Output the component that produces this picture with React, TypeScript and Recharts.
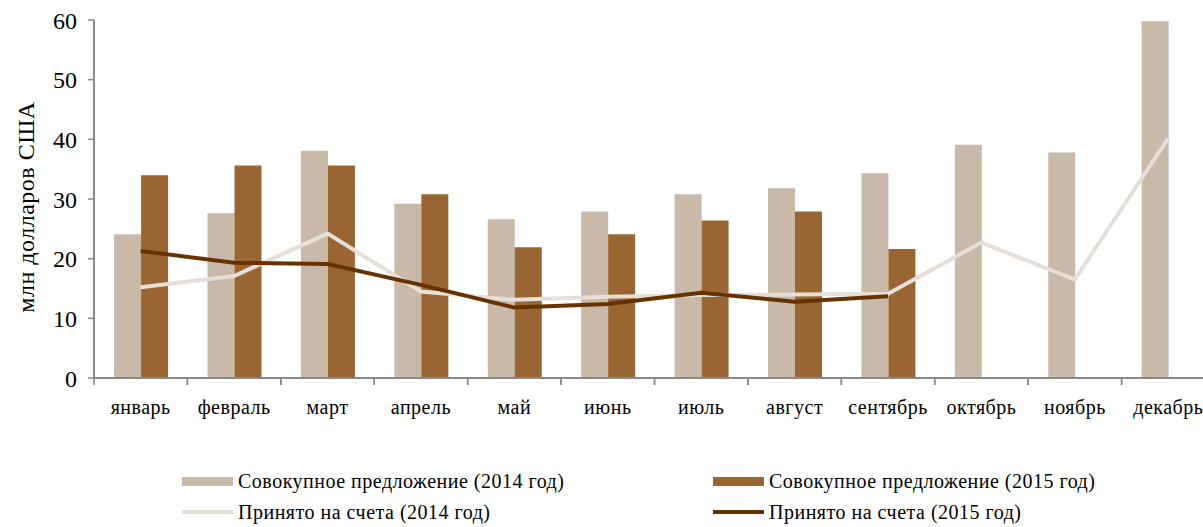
import React from 'react';
import { ComposedChart, Bar, Line, XAxis, YAxis } from 'recharts';

// данные по месяцам, млн долларов США
const months = ['январь', 'февраль', 'март', 'апрель', 'май', 'июнь', 'июль', 'август', 'сентябрь', 'октябрь', 'ноябрь', 'декабрь'];
const supply2014 = [24.1, 27.6, 38.1, 29.2, 26.6, 27.9, 30.8, 31.8, 34.3, 39.1, 37.8, 59.8];
const supply2015 = [34.0, 35.6, 35.6, 30.8, 21.9, 24.1, 26.4, 27.9, 21.6, null, null, null];
const accepted2014 = [15.2, 17.1, 24.2, 14.5, 13.1, 13.6, 13.9, 14.0, 14.1, 22.7, 16.5, 40.2];
const accepted2015 = [21.3, 19.3, 19.1, 15.6, 11.8, 12.4, 14.3, 12.8, 13.7, null, null, null];
const yTicks = [0, 10, 20, 30, 40, 50, 60];

const legendItems = [
  { label: 'Совокупное предложение (2014 год)', color: '#C8B9A9', kind: 'bar' },
  { label: 'Совокупное предложение (2015 год)', color: '#996633', kind: 'bar' },
  { label: 'Принято на счета (2014 год)', color: '#E6DFD8', kind: 'line' },
  { label: 'Принято на счета (2015 год)', color: '#663300', kind: 'line' },
];

const data = months.map((m, i) => ({
  month: m,
  s14: supply2014[i],
  s15: supply2015[i],
  a14: accepted2014[i],
  a15: accepted2015[i],
}));

const FONT = '"Liberation Serif", "Times New Roman", serif';
const AXIS = '#8a8a8a';
const CHART_W = 1222;
const CHART_H = 420;
const LEFT = 94;
const RIGHT_M = 7;
const band = (CHART_W - LEFT - RIGHT_M) / months.length;

const MonthTick = (props: any) => {
  const { x, y, payload } = props;
  return (
    <g>
      <line x1={x - band / 2} x2={x - band / 2} y1={y - 8} y2={y - 1} stroke={AXIS} strokeWidth={1.5} />
      <line x1={x + band / 2} x2={x + band / 2} y1={y - 8} y2={y - 1} stroke={AXIS} strokeWidth={1.5} />
      <text x={x} y={y + 28} textAnchor="middle" fontFamily={FONT} fontSize={20} letterSpacing={0.5} fill="#000">
        {payload.value}
      </text>
    </g>
  );
};

const YLabel = () => (
  <text
    x={26}
    y={207}
    transform="rotate(-90, 26, 207)"
    textAnchor="middle"
    dominantBaseline="central"
    fontFamily={FONT}
    fontSize={24}
    letterSpacing={0.5}
    fill="#000"
  >
    млн долларов США
  </text>
);

export default function App() {
  return (
    <div style={{ width: 1203, height: 527, overflow: 'hidden', position: 'relative', background: '#fff' }}>
      <style>{'html, body { margin: 0; padding: 0; overflow: hidden; }'}</style>
      <ComposedChart
        width={CHART_W}
        height={CHART_H}
        data={data}
        margin={{ top: 20, right: RIGHT_M, bottom: 12, left: 0 }}
        barCategoryGap="21.5%"
        barGap={0}
      >
        <XAxis
          dataKey="month"
          height={30}
          axisLine={{ stroke: AXIS, strokeWidth: 2 }}
          tickLine={false}
          tick={<MonthTick />}
          interval={0}
        />
        <YAxis
          width={LEFT}
          domain={[0, 60]}
          ticks={yTicks}
          axisLine={{ stroke: AXIS, strokeWidth: 2 }}
          tickLine={{ stroke: AXIS, strokeWidth: 1.5 }}
          tickSize={6}
          tickMargin={11}
          tick={{ fontFamily: FONT, fontSize: 24, fill: '#000' }}
          label={<YLabel />}
        />
        <Bar dataKey="s14" fill="#C8B9A9" isAnimationActive={false} />
        <Bar dataKey="s15" fill="#996633" isAnimationActive={false} />
        <Line dataKey="a14" stroke="#E6DFD8" strokeWidth={4} dot={false} isAnimationActive={false} />
        <Line dataKey="a15" stroke="#663300" strokeWidth={4} dot={false} isAnimationActive={false} />
      </ComposedChart>
      <div
        style={{
          position: 'absolute',
          left: 182,
          top: 469,
          display: 'grid',
          gridTemplateColumns: '531px 531px',
          rowGap: 7,
          fontFamily: FONT,
          fontSize: 20,
          letterSpacing: 0.5,
          lineHeight: '24px',
          color: '#000',
        }}
      >
        {legendItems.map((it) => (
          <div key={it.label} style={{ display: 'flex', alignItems: 'center', height: 24 }}>
            <span
              style={{
                display: 'inline-block',
                flex: 'none',
                width: 51,
                height: it.kind === 'bar' ? 9 : 4,
                background: it.color,
                marginRight: 5,
              }}
            />
            <span style={{ whiteSpace: 'nowrap' }}>{it.label}</span>
          </div>
        ))}
      </div>
    </div>
  );
}
